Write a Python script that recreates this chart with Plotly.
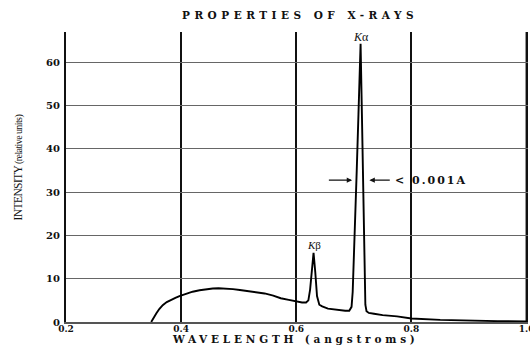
import plotly.graph_objects as go

# Continuous spectrum plus the K-beta and K-alpha characteristic lines
wavelength = [
    0.348, 0.352, 0.357, 0.362, 0.368, 0.375, 0.383, 0.390, 0.397, 0.408,
    0.420, 0.432, 0.444, 0.455, 0.465, 0.477, 0.490, 0.502, 0.515, 0.530,
    0.545, 0.560, 0.573, 0.587, 0.600, 0.610, 0.617, 0.621, 0.624, 0.627,
    0.630, 0.633, 0.636, 0.640, 0.645, 0.655, 0.670, 0.685, 0.692, 0.696,
    0.698, 0.700, 0.7025, 0.705, 0.708, 0.7117, 0.714, 0.7157, 0.717, 0.7185,
    0.720, 0.722, 0.726, 0.735, 0.750, 0.775, 0.800, 0.850, 0.900, 0.950,
    1.000,
]
intensity = [
    0.0, 1.0, 2.0, 3.0, 3.9, 4.6, 5.2, 5.6, 6.0, 6.5,
    7.0, 7.35, 7.6, 7.75, 7.8, 7.75, 7.6, 7.4, 7.2, 6.9,
    6.6, 6.1, 5.5, 5.1, 4.7, 4.5, 4.5, 5.0, 7.5, 12.5,
    16.0, 11.5, 6.0, 4.0, 3.6, 3.1, 2.8, 2.6, 2.6, 3.5,
    7.0, 14.0, 24.0, 35.0, 48.0, 64.3, 48.0, 33.0, 21.0, 10.0,
    4.0, 2.5, 2.1, 1.9, 1.6, 1.3, 0.8, 0.5, 0.3, 0.2,
    0.1,
]

x_ticks = [0.2, 0.4, 0.6, 0.8, 1.0]
x_tick_labels = ["0.2", "0.4", "0.6", "0.8", "1.0"]
y_ticks = [0, 10, 20, 30, 40, 50, 60]
y_tick_labels = ["0", "10", "20", "30", "40", "50", "60"]

k_alpha = (0.7117, 64.3)
k_beta = (0.630, 16.0)
width_marker_level = 32.8

SERIF = "DejaVu Serif"
INK = "#111111"

fig = go.Figure()
fig.add_trace(go.Scatter(
    x=wavelength, y=intensity, mode="lines",
    line=dict(color="#000000", width=1.9),
    hoverinfo="skip", showlegend=False,
))

annotations = [
    # line labels
    dict(x=k_alpha[0], y=k_alpha[1] + 1.6, text="<i>K</i>α", showarrow=False,
         xanchor="center", yanchor="middle",
         font=dict(family="Liberation Serif", size=12, color=INK)),
    dict(x=k_beta[0], y=k_beta[1] + 1.8, text="<i>K</i>β", showarrow=False,
         xanchor="center", yanchor="middle",
         font=dict(family="Liberation Serif", size=11, color=INK)),
    # arrows marking the K-alpha line width
    dict(x=0.697, y=width_marker_level, ax=0.654, ay=width_marker_level,
         xref="x", yref="y", axref="x", ayref="y", text="", showarrow=True,
         arrowhead=2, arrowsize=0.9, arrowwidth=1.2, arrowcolor=INK),
    dict(x=0.727, y=width_marker_level, ax=0.765, ay=width_marker_level,
         xref="x", yref="y", axref="x", ayref="y", text="", showarrow=True,
         arrowhead=2, arrowsize=0.9, arrowwidth=1.2, arrowcolor=INK),
    dict(x=0.768, y=width_marker_level, xanchor="left", yanchor="middle",
         showarrow=False,
         text='<span style="letter-spacing:2px">&lt; 0.001A</span>',
         font=dict(family=SERIF, size=11, color=INK, weight="bold")),
    # title and axis titles
    dict(x=0.5065, y=1.0586, xref="paper", yref="paper", showarrow=False,
         xanchor="center", yanchor="middle",
         text='<span style="letter-spacing:4.5px">PROPERTIES OF X-RAYS</span>',
         font=dict(family=SERIF, size=10.5, color=INK, weight="bold")),
    dict(x=0.497, y=-0.058, xref="paper", yref="paper", showarrow=False,
         xanchor="center", yanchor="middle",
         text='<span style="letter-spacing:3.8px">WAVELENGTH (angstroms)</span>',
         font=dict(family=SERIF, size=10.5, color=INK, weight="bold")),
    dict(x=-0.104, y=0.533, xref="paper", yref="paper", showarrow=False,
         xanchor="center", yanchor="middle", textangle=-90,
         text='<span style="letter-spacing:-0.6px">INTENSITY '
              '<span style="font-size:10px">(relative units)</span></span>',
         font=dict(family="Liberation Serif", size=11.5, color=INK)),
]

# right-hand boundary line at the last wavelength tick
shapes = [
    dict(type="line", xref="x", yref="paper", x0=x_ticks[-1], x1=x_ticks[-1],
         y0=0, y1=1, line=dict(color=INK, width=2), layer="below"),
]

fig.update_layout(
    width=530, height=345,
    margin=dict(l=66, r=2, t=32, b=23),
    paper_bgcolor="white", plot_bgcolor="white",
    annotations=annotations, shapes=shapes,
    xaxis=dict(
        range=[0.2, 1.0025], tickvals=x_ticks, ticktext=x_tick_labels,
        showgrid=True, gridcolor=INK, gridwidth=2,
        showline=True, linecolor="#555555", linewidth=1.5,
        zeroline=False, ticks="", fixedrange=True, automargin=False,
        ticklabeloverflow="allow", ticklabelstandoff=-3,
        tickfont=dict(family=SERIF, size=9, color=INK, weight="bold"),
    ),
    yaxis=dict(
        range=[0, 67.05], tickvals=y_ticks, ticktext=y_tick_labels,
        showgrid=True, gridcolor="#666666", gridwidth=1,
        showline=True, linecolor=INK, linewidth=2,
        zeroline=False, ticks="", fixedrange=True, automargin=False,
        ticklabelstandoff=2,
        tickfont=dict(family=SERIF, size=10, color=INK, weight="bold"),
    ),
)

fig.write_html("out.html")
